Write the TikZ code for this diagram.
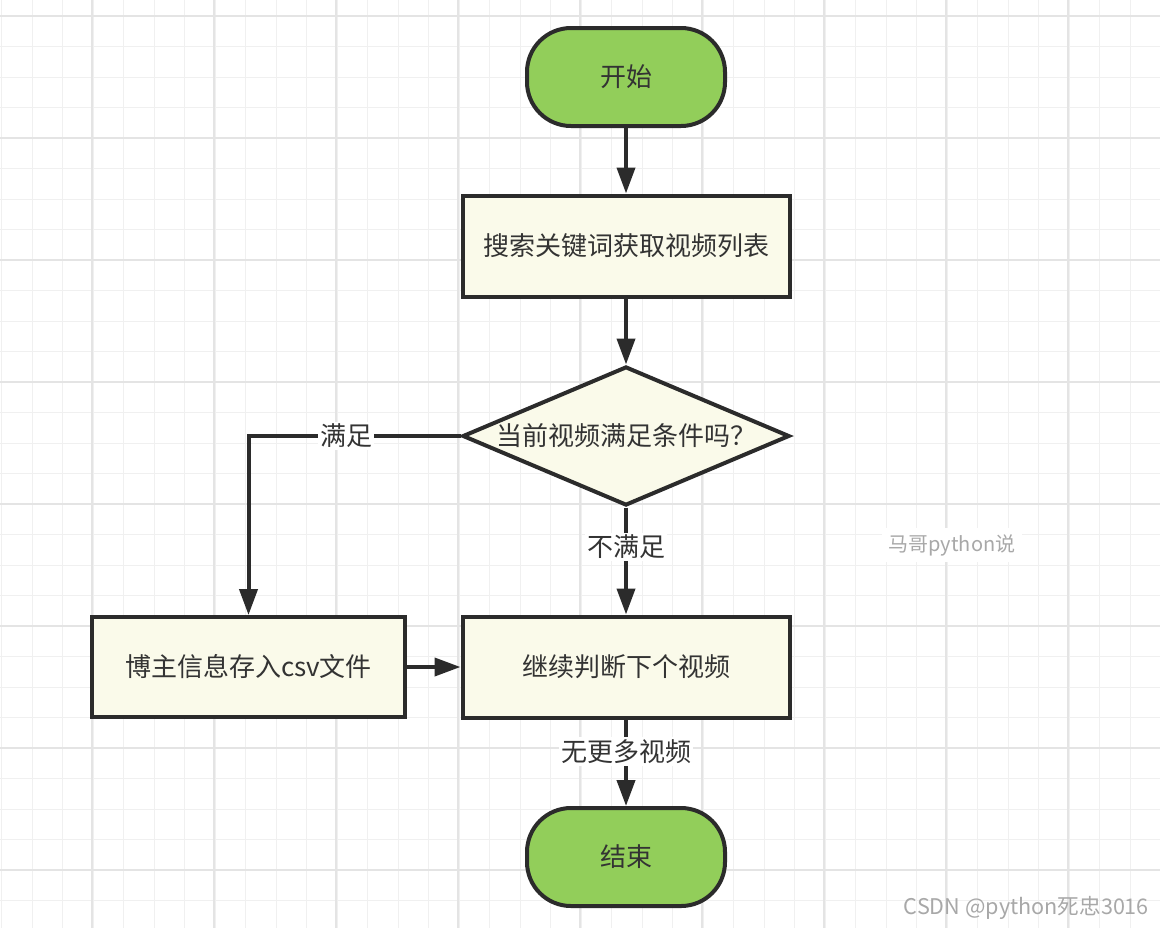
\documentclass[tikz,border=0pt]{standalone}
\usepackage{fontspec}
\newfontfamily\cjk{Noto Sans CJK SC}
\usetikzlibrary{shapes.geometric, arrows.meta}
\definecolor{startgreen}{HTML}{92CE5A}
\definecolor{boxcream}{HTML}{FAFAEA}
\definecolor{linedark}{HTML}{2B2B2B}
\definecolor{textdark}{HTML}{333333}
\definecolor{gridminor}{HTML}{F0F0F0}
\definecolor{gridmajor}{HTML}{E4E4E4}
\definecolor{markgrey}{HTML}{A8A8A8}

\begin{document}
\begin{tikzpicture}[
  x=0.5pt, y=-0.5pt,
  every node/.style={font=\cjk\fontsize{13}{15}\selectfont, text=textdark},
  terminal/.style={draw=linedark, line width=2pt, fill=startgreen, rounded corners=22pt,
    minimum width=99pt, minimum height=49pt, inner sep=0pt},
  process/.style={draw=linedark, line width=2pt, fill=boxcream,
    minimum width=163.5pt, minimum height=50.5pt, inner sep=0pt},
  decision/.style={diamond, draw=linedark, line width=2pt, fill=boxcream,
    minimum width=163.5pt, minimum height=69.5pt, inner sep=0pt},
  arrowline/.style={draw=linedark, line width=2pt, -{Triangle[length=13pt, width=9pt]}},
  branch/.style={fill=white, inner sep=1pt},
  minorgrid/.style={draw=gridminor, line width=0.5pt},
  majorgrid/.style={draw=gridmajor, line width=1pt}
]
  % Hintergrund mit Raster
  \useasboundingbox[fill=white] (0,0) rectangle (1160,928);
  \foreach \gx in {0,...,38} {\draw[minorgrid] ({1.5+30.5*\gx},0) -- ({1.5+30.5*\gx},928);}
  \foreach \gy in {0,...,30} {\draw[minorgrid] (0,{16+30.5*\gy}) -- (1160,{16+30.5*\gy});}
  \foreach \gx in {0,...,8} {\draw[majorgrid] ({92+122*\gx},0) -- ({92+122*\gx},928);}
  \foreach \gy in {0,...,7} {\draw[majorgrid] (0,{16+122*\gy}) -- (1160,{16+122*\gy});}

  % Knoten
  \node[terminal] (start) at (626, 77) {开始};
  \node[process] (search) at (626, 246) {搜索关键词获取视频列表};
  \node[decision, label=center:{当前视频满足条件吗？}] (check) at (626, 436) {};
  \node[process, minimum width=156.5pt, minimum height=50pt] (save) at (248.5, 667) {博主信息存入csv文件};
  \node[process] (next) at (626, 667) {继续判断下个视频};
  \node[terminal] (end) at (626, 857) {结束};

  % Pfeile
  \draw[arrowline] (start) -- (search);
  \draw[arrowline] (search) -- (check);
  \draw[arrowline] (check.west) -| (save.north) node[branch, pos=0.27] {满足};
  \draw[arrowline] (check.south) -- (next.north) node[branch, pos=0.37] {不满足};
  \draw[arrowline] (save) -- (next);
  \draw[arrowline] (next) -- (end) node[branch, pos=0.37] {无更多视频};

  % Wasserzeichen
  \node[fill=white, text=markgrey, font=\cjk\fontsize{10}{12}\selectfont] (mark) at (952, 545) {马哥python说};
  \node[text=markgrey, font=\cjk\fontsize{10.8}{13}\selectfont, anchor=east] (csdn) at (1156, 908) {CSDN @python死忠3016};
\end{tikzpicture}
\end{document}
